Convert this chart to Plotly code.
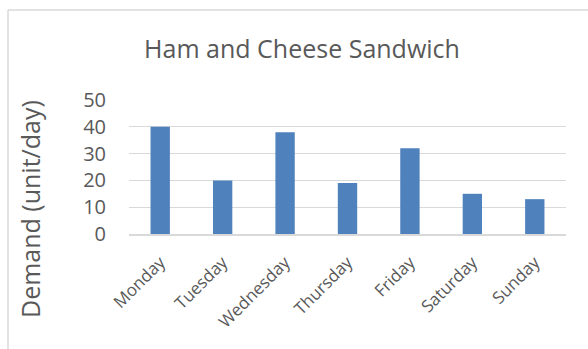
import plotly.graph_objects as go

days = ["Monday", "Tuesday", "Wednesday", "Thursday", "Friday", "Saturday", "Sunday"]
demand = [40, 20, 38, 19, 32, 15, 13]
y_ticks = [0, 10, 20, 30, 40, 50]

text_color = "#595959"
grid_color = "#d9d9d9"
font_family = "Open Sans, sans-serif"

W, H = 588, 349
L, R, T, B = 129, 22, 100, 115
PW, PH = W - L - R, H - T - B


def px_x(x):
    return (x - L) / PW


def px_y(y):
    return (H - B - y) / PH


fig = go.Figure(
    go.Bar(
        x=days,
        y=demand,
        marker=dict(color="#4f81bd", line=dict(width=0)),
        width=0.31,
    )
)

fig.update_layout(
    width=W,
    height=H,
    margin=dict(l=L, r=R, t=T, b=B),
    paper_bgcolor="white",
    plot_bgcolor="white",
    showlegend=False,
    font=dict(family=font_family, color=text_color),
    title=dict(
        text="Ham and Cheese Sandwich",
        x=302 / W,
        xanchor="center",
        y=1 - 49 / H,
        yanchor="middle",
        font=dict(size=25, color=text_color, family=font_family),
    ),
    shapes=[
        # thin frame around the chart area (top and left edges)
        dict(type="line", xref="paper", yref="paper",
             x0=px_x(8), x1=px_x(W), y0=px_y(10), y1=px_y(10),
             line=dict(color=grid_color, width=1.5)),
        dict(type="line", xref="paper", yref="paper",
             x0=px_x(8), x1=px_x(8), y0=px_y(10), y1=px_y(H),
             line=dict(color=grid_color, width=1.5)),
    ],
    annotations=[
        dict(
            text="Demand (unit/day)",
            xref="paper", yref="paper",
            x=px_x(30), y=px_y(209),
            xanchor="center", yanchor="middle",
            textangle=-90, showarrow=False,
            font=dict(size=25, color=text_color, family=font_family),
        )
    ],
)

fig.update_xaxes(
    type="category",
    tickangle=-45,
    tickfont=dict(size=17, color=text_color),
    showgrid=False,
    showline=True,
    linecolor=grid_color,
    linewidth=1.5,
    ticks="outside",
    ticklen=10,
    tickcolor="rgba(0,0,0,0)",
)

fig.update_yaxes(
    range=[0, 50],
    tickvals=y_ticks,
    tickfont=dict(size=20, color=text_color),
    showgrid=True,
    gridcolor=grid_color,
    gridwidth=1,
    zeroline=False,
    showline=False,
    ticks="outside",
    ticklen=18,
    tickcolor="rgba(0,0,0,0)",
)

fig.write_html("out.html")
